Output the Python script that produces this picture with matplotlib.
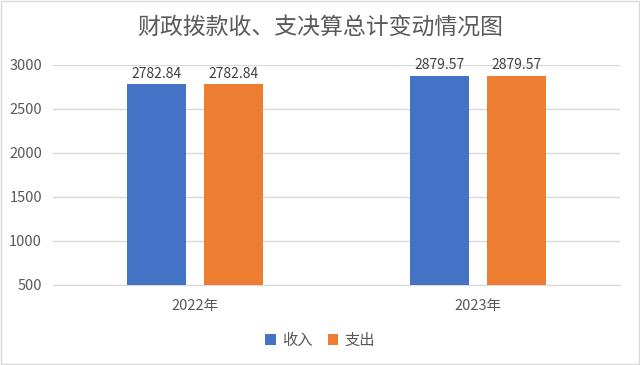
import numpy as np
import matplotlib.pyplot as plt
from matplotlib.patches import Rectangle

plt.rcParams['font.family'] = ['Noto Sans CJK SC', 'DejaVu Sans']

years = ["2022年", "2023年"]
series = ["收入", "支出"]
income = [2782.84, 2879.57]
expense = [2782.84, 2879.57]
colors = ["#4472C4", "#ED7D31"]
text_color = "#595959"

fig = plt.figure(figsize=(6.4, 3.65), dpi=100)
ax = fig.add_axes([53 / 640, 1 - 285 / 365, 567 / 640, 220 / 365])

x = np.arange(len(years))
w = 0.208
off = 0.136
for vals, c, d, name in zip([income, expense], colors, [-off, off], series):
    bars = ax.bar(x + d, vals, width=w, color=c, label=name, zorder=3)
    for b, v in zip(bars, vals):
        ax.text(b.get_x() + b.get_width() / 2, v + 40, f"{v:.2f}",
                ha="center", va="bottom", fontsize=10, color="#404040")

ax.set_xlim(-0.5, 1.5)
ax.set_ylim(500, 3000)
ax.set_yticks(np.arange(500, 3001, 500))
ax.set_xticks(x)
ax.set_xticklabels(years)
ax.yaxis.grid(True, color="#D9D9D9", linewidth=1, zorder=0)
for s in ["top", "right", "left"]:
    ax.spines[s].set_visible(False)
ax.spines["bottom"].set_color("#D9D9D9")
ax.tick_params(axis="both", length=0, labelsize=10.5, colors=text_color)
ax.tick_params(axis="y", pad=8)
ax.tick_params(axis="x", pad=10)

fig.text(0.5, 1 - 27 / 365, "财政拨款收、支决算总计变动情况图", ha="center", va="center",
         fontsize=16.5, color=text_color)

fig.legend(loc="center", bbox_to_anchor=(0.5, 1 - 340 / 365), ncol=2, frameon=False,
           fontsize=11, handlelength=0.7, handleheight=0.7, handletextpad=0.4,
           columnspacing=1.0, labelcolor=text_color)

fig.patches.append(Rectangle((0.001, 0.002), 0.997, 0.996, transform=fig.transFigure,
                             fill=False, edgecolor="#D9D9D9", linewidth=1))

fig.savefig("out.png", dpi=100)
